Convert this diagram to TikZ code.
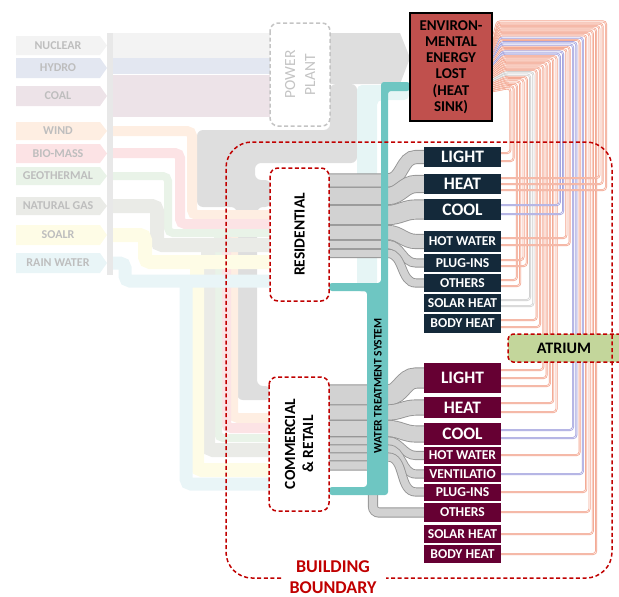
\documentclass[tikz,border=0pt]{standalone}
\usepackage{fontspec}
\setmainfont{Carlito}
\definecolor{navyc}{HTML}{14293A}
\definecolor{maroonc}{HTML}{660033}
\definecolor{envc}{HTML}{C0504D}
\definecolor{bred}{HTML}{C00000}
\definecolor{atrc}{HTML}{C3D69B}
\definecolor{tealc}{HTML}{6EC6C2}
\definecolor{gfill}{HTML}{D2D2D2}
\definecolor{gedge}{HTML}{959595}
\definecolor{srcText}{HTML}{BEBEBE}
\definecolor{ppgray}{HTML}{C4C4C4}
\definecolor{lnR}{HTML}{F2A38D}
\definecolor{liR}{HTML}{FDE4DC}
\definecolor{lnB}{HTML}{9C9CDC}
\definecolor{liB}{HTML}{E6E6F7}
\definecolor{lnG}{HTML}{CDCDCD}
\definecolor{liG}{HTML}{F4F4F4}
\definecolor{cNuc}{HTML}{F3F3F3}
\definecolor{cHyd}{HTML}{E3E7F1}
\definecolor{cCoal}{HTML}{EDE3E8}
\definecolor{cWind}{HTML}{FEEEE2}
\definecolor{cBio}{HTML}{FCE3E5}
\definecolor{cGeo}{HTML}{E9F3E8}
\definecolor{cGas}{HTML}{EAEBE7}
\definecolor{cSol}{HTML}{FEFCE6}
\definecolor{cRain}{HTML}{E9F5F7}
\definecolor{cElec}{HTML}{DEDEDE}
\definecolor{cBar}{HTML}{E8E8E8}
\definecolor{cCyan}{HTML}{E6F5F5}
\begin{document}
\begin{tikzpicture}[x=1pt,y=-1pt,
  dbox/.style={draw=bred, line width=1.5pt, dash pattern=on 4pt off 2.6pt, fill=white, rounded corners=8pt, inner sep=0pt},
  srclabel/.style={text=srcText, font=\fontsize{12}{14}\selectfont\bfseries, inner sep=0pt},
  resbox/.style={fill=navyc, text=white, minimum width=77pt, inner sep=0pt, font=\fontsize{13.6}{15}\selectfont\bfseries},
  combox/.style={resbox, fill=maroonc},
  bigt/.style={font=\fontsize{17.5}{20}\selectfont\bfseries}]
\useasboundingbox (0,0) rectangle (619,597);

% ---------- faded source flows ----------
\fill[cBar] (107,33) rectangle (113,275);
\fill[cNuc] (113,33) rectangle (272,58);
\fill[cHyd] (113,58) rectangle (272,74);
\fill[cCoal] (113,75) rectangle (272,117);
\fill[cElec] (330,33) -- (400,33) -- (410,58) -- (400,84) -- (330,84) -- cycle;
\fill[cElec, rounded corners=6] (330,84) -- (357,84) -- (357,163) -- (255,163) -- (255,180) -- (271,180) -- (271,207) -- (257,207) -- (257,386) -- (271,386) -- (271,400) -- (237,400) -- (237,207) -- (197,207) -- (197,130) -- (330,130) -- cycle;
\foreach \ys/\xa/\yr/\xc/\yc/\w/\col in {131/192/215/233/418/10/cWind, 153/180/224/226/428/10/cBio, 176/168/233/218/438/8/cGeo, 206/157/245/208/450/14/cGas, 235/145/262/197/470/14/cSol, 263/125/281/186/484/13/cRain} {
  \draw[\col, line width=\w pt, rounded corners=5] (113,\ys) -- (\xa,\ys) -- (\xa,\yr) -- (271,\yr);
  \draw[\col, line width=\w pt, rounded corners=5] (\xc,\yr) -- (\xc,\yc) -- (271,\yc);
}
\fill[cCyan, rounded corners=5] (357,85) -- (409,85) -- (409,100) -- (377,100) -- (377,292) -- (357,292) -- cycle;

% source arrows
\foreach \ya/\yb/\col/\lab/\nm in {36/55/cNuc/NUCLEAR/nuc, 58/78/cHyd/HYDRO/hyd, 86/106/cCoal/COAL/coal, 122/140/cWind/WIND/wind, 144/163/cBio/BIO-MASS/bio, 167/185/cGeo/GEOTHERMAL/geo, 197/215/cGas/NATURAL GAS/gas, 225/245/cSol/SOALR/sol, 253/273/cRain/RAIN WATER/rain} {
  \fill[\col] (16,\ya) -- (100,\ya) -- (107,{(\ya+\yb)/2}) -- (100,\yb) -- (16,\yb) -- cycle;
  \node[srclabel] (\nm) at (58,{(\ya+\yb)/2}) {\lab};
}

% ---------- gray flows to end uses ----------
\foreach \ya/\yb/\w in {180.5/157/13, 196/184/17, 215/209.5/19, 232.5/241.5/14, 244.5/263/8, 253.5/283/8, 395/378/20, 412.5/407.5/15, 428.5/434/16, 441/455.5/8, 449/474/8, 457/492/8} {
  \pgfmathsetmacro\wo{\w+1.2}
  \pgfmathsetmacro\wi{\w-0.6}
  \draw[gedge, line width=\wo pt] (328,\ya) -- (388,\ya) to[out=0,in=180] (416,\yb) -- (425,\yb);
  \draw[gfill, line width=\wi pt] (328,\ya) -- (388,\ya) to[out=0,in=180] (416,\yb) -- (425,\yb);
}
\draw[gedge, line width=10.2pt, rounded corners=6] (328,465.5) -- (373,465.5) -- (373,512.5) -- (425,512.5);
\draw[gfill, line width=8.4pt, rounded corners=6] (328,465.5) -- (373,465.5) -- (373,512.5) -- (425,512.5);

% ---------- water treatment ----------
\fill[tealc, rounded corners=3] (381,82) -- (410,82) -- (410,91) -- (388,91) -- (388,495) -- (329,495) -- (329,487) -- (367,487) -- (367,291) -- (329,291) -- (329,283) -- (381,283) -- cycle;
\node[rotate=90, font=\fontsize{11.5}{13}\selectfont\bfseries, inner sep=0pt] (wts) at (378,386) {WATER TREATMENT SYSTEM};

% ---------- sector boxes ----------
\node[dbox, rotate=90, minimum width=133pt, minimum height=59pt, font=\fontsize{15.5}{18}\selectfont\bfseries] (res) at (299.5,234.5) {RESIDENTIAL};
\node[dbox, rotate=90, minimum width=134pt, minimum height=60pt, align=center, font=\fontsize{15.5}{18}\selectfont\bfseries] (com) at (299,444) {COMMERCIAL\\\& RETAIL};
\node[dbox, draw=ppgray, text=ppgray, rotate=90, minimum width=103pt, minimum height=60pt, align=center, font=\fontsize{15.5}{20}\selectfont] (pp) at (300,74.5) {POWER\\PLANT};

% ---------- thin loss lines ----------
\foreach \yb/\cl [count=\i] in {153/R,161/R,280/R,286/R,260/R,266/R,300/G,306/G,320/R,327/R,370/R,378/R,386/R,403/R,412/R,205/B,214/B,238/R,245/R,430/B,438/B,455/R,474/B,492/R,512/R,534/R,554/R,178/R,184/R,190/R} {
  \pgfmathsetmacro\xv{507+3.3*\i}
  \pgfmathsetmacro\yt{20+(608-\xv)*0.7}
  \pgfmathsetmacro\xl{497+(\yt-20)*0.15}
  \pgfmathsetmacro\yi{40+(\yt-20)*0.75}
  \draw[line width=2pt, ln\cl, rounded corners=3] (500,\yb) -- (\xv,\yb) -- (\xv,\yt) -- (\xl,\yt) -- (492,\yi);
  \draw[line width=0.7pt, li\cl, rounded corners=3] (500,\yb) -- (\xv,\yb) -- (\xv,\yt) -- (\xl,\yt) -- (492,\yi);
}

% ---------- end-use boxes ----------
\node[resbox, bigt, minimum height=20pt] (rlight) at (462.5,157) {LIGHT};
\node[resbox, bigt, minimum height=20pt] (rheat) at (462.5,184) {HEAT};
\node[resbox, bigt, minimum height=21pt] (rcool) at (462.5,209.5) {COOL};
\node[resbox, minimum height=21pt] (rhw) at (462.5,241.5) {HOT WATER};
\node[resbox, minimum height=18pt] (rplug) at (462.5,263) {PLUG-INS};
\node[resbox, minimum height=18pt] (roth) at (462.5,283) {OTHERS};
\node[resbox, minimum height=18pt] (rsol) at (462.5,303) {SOLAR HEAT};
\node[resbox, minimum height=19pt] (rbody) at (462.5,323.5) {BODY HEAT};
\node[combox, bigt, minimum height=30pt] (clight) at (462.5,378) {LIGHT};
\node[combox, bigt, minimum height=21pt] (cheat) at (462.5,407.5) {HEAT};
\node[combox, bigt, minimum height=22pt] (ccool) at (462.5,434) {COOL};
\node[combox, minimum height=17pt] (chw) at (462.5,455.5) {HOT WATER};
\node[combox, minimum height=16pt] (cvent) at (462.5,474) {VENTILATIO};
\node[combox, minimum height=17pt] (cplug) at (462.5,492) {PLUG-INS};
\node[combox, minimum height=19pt] (coth) at (462.5,512.5) {OTHERS};
\node[combox, minimum height=18pt] (csol) at (462.5,534) {SOLAR HEAT};
\node[combox, minimum height=18pt] (cbody) at (462.5,554) {BODY HEAT};

% ---------- environment ----------
\node[fill=envc, draw=black, line width=2pt, minimum width=82pt, minimum height=108pt, inner sep=0pt, align=center, font=\fontsize{15}{16.2}\selectfont\bfseries] (env) at (451,67) {ENVIRON-\\MENTAL\\ENERGY\\LOST\\(HEAT\\SINK)};

% ---------- atrium ----------
\node[fill=atrc, draw=bred, line width=1.5pt, dash pattern=on 4pt off 2.6pt, rounded corners=5pt, minimum width=124pt, minimum height=28pt, inner sep=0pt] (atr) at (570,348) {};
\node[font=\fontsize{16}{18}\selectfont\bfseries, inner sep=0pt] (atrt) at (564,348) {ATRIUM};

% ---------- building boundary ----------
\draw[draw=bred, line width=1.5pt, dash pattern=on 4pt off 2.6pt, rounded corners=26pt] (281,578) -- (226,578) -- (226,142) -- (612,142) -- (612,578) -- (386,578);
\node[text=bred, align=center, inner sep=0pt, font=\fontsize{18}{21.5}\selectfont\bfseries] (bb) at (333,577) {BUILDING\\BOUNDARY};
\end{tikzpicture}
\end{document}
